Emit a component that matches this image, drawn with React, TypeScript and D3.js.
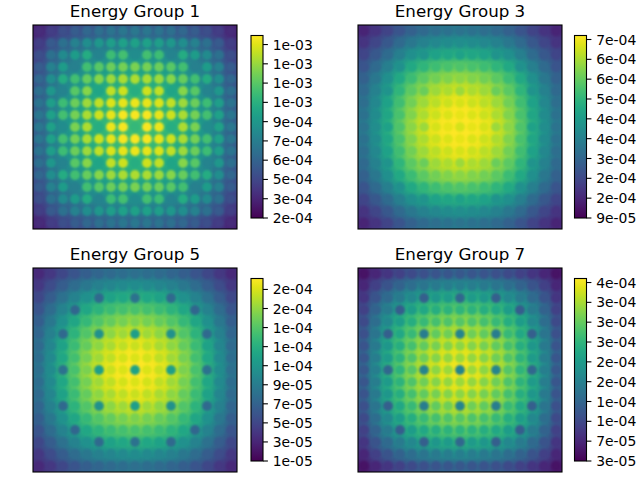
import * as d3 from "d3";

// Quarter-assembly values (index 0 = outer edge, index 8 = assembly centre).
// The 17x17 lattice is mirrored from these. "Moderator" = water between pins,
// "Pin" = value inside the pin cell (guide tubes included).

// Energy group 1, units of 1e-4
const g1Moderator = [
  [3.21, 3.96, 4.55, 4.96, 5.31, 5.54, 5.71, 5.8, 5.83],
  [3.97, 4.9, 5.62, 6.13, 6.56, 6.85, 7.07, 7.17, 7.21],
  [4.55, 5.62, 6.45, 7.03, 7.53, 7.86, 8.1, 8.23, 8.27],
  [4.96, 6.13, 7.03, 7.66, 8.2, 8.56, 8.83, 8.96, 9.01],
  [5.31, 6.56, 7.53, 8.2, 8.78, 9.17, 9.46, 9.6, 9.65],
  [5.54, 6.85, 7.85, 8.56, 9.16, 9.57, 9.87, 10.02, 10.07],
  [5.71, 7.07, 8.1, 8.83, 9.45, 9.87, 10.18, 10.34, 10.39],
  [5.8, 7.17, 8.23, 8.97, 9.6, 10.02, 10.34, 10.5, 10.55],
  [5.83, 7.21, 8.27, 9.01, 9.65, 10.07, 10.39, 10.55, 10.6],
];
const g1Pin = [
  [3.61, 4.36, 5.06, 5.69, 6.23, 6.58, 6.84, 6.98, 7.03],
  [4.37, 5.6, 6.7, 7.49, 8.15, 8.6, 8.94, 9.09, 9.15],
  [5.06, 6.7, 7.98, 8.88, 9.65, 7.62, 10.52, 10.72, 8.02],
  [5.69, 7.49, 8.88, 7.43, 10.68, 11.23, 11.65, 11.85, 11.93],
  [6.23, 8.15, 9.65, 10.68, 11.57, 12.17, 12.62, 12.83, 12.91],
  [6.58, 8.6, 7.61, 11.23, 12.16, 9.28, 13.25, 13.48, 9.77],
  [6.84, 8.94, 10.52, 11.65, 12.6, 13.25, 13.73, 13.97, 14.05],
  [6.98, 9.09, 10.72, 11.86, 12.83, 13.48, 13.97, 14.22, 14.3],
  [7.03, 9.15, 8.02, 11.93, 12.91, 9.77, 14.05, 14.3, 10.28],
];

// Energy group 3, units of 1e-4
const g3Moderator = [
  [1.62, 1.94, 2.29, 2.68, 2.98, 3.2, 3.34, 3.42, 3.48],
  [1.95, 2.34, 2.76, 3.22, 3.59, 3.85, 4.02, 4.13, 4.19],
  [2.3, 2.76, 3.26, 3.8, 4.23, 4.54, 4.74, 4.86, 4.94],
  [2.68, 3.22, 3.8, 4.43, 4.94, 5.29, 5.52, 5.67, 5.75],
  [2.98, 3.59, 4.23, 4.94, 5.5, 5.9, 6.16, 6.32, 6.42],
  [3.2, 3.85, 4.54, 5.29, 5.9, 6.33, 6.6, 6.77, 6.88],
  [3.34, 4.02, 4.74, 5.53, 6.16, 6.6, 6.9, 7.08, 7.18],
  [3.42, 4.13, 4.86, 5.67, 6.31, 6.77, 7.07, 7.25, 7.36],
  [3.48, 4.19, 4.94, 5.75, 6.42, 6.88, 7.18, 7.36, 7.48],
];
const g3Pin = [
  [1.54, 1.85, 2.18, 2.55, 2.84, 3.05, 3.18, 3.26, 3.31],
  [1.86, 2.23, 2.63, 3.07, 3.42, 3.67, 3.83, 3.93, 3.99],
  [2.19, 2.63, 3.1, 3.62, 4.03, 4.15, 4.51, 4.63, 4.51],
  [2.55, 3.07, 3.62, 4.05, 4.7, 5.04, 5.26, 5.4, 5.48],
  [2.84, 3.42, 4.03, 4.7, 5.24, 5.62, 5.87, 6.02, 6.11],
  [3.05, 3.67, 4.15, 5.04, 5.62, 5.79, 6.29, 6.45, 6.29],
  [3.18, 3.83, 4.51, 5.27, 5.87, 6.29, 6.57, 6.74, 6.84],
  [3.26, 3.93, 4.63, 5.4, 6.01, 6.45, 6.73, 6.9, 7.01],
  [3.31, 3.99, 4.51, 5.48, 6.11, 6.29, 6.84, 7.01, 6.84],
];

// Energy group 5, units of 1e-5
const g5Moderator = [
  [3.37, 4.34, 5.33, 6.23, 6.96, 7.52, 7.89, 8.13, 8.26],
  [4.34, 5.6, 6.87, 8.03, 8.97, 9.68, 10.17, 10.49, 10.65],
  [5.33, 6.87, 8.42, 9.84, 10.99, 11.88, 12.47, 12.86, 13.05],
  [6.23, 8.04, 9.84, 11.51, 12.86, 13.9, 14.58, 15.04, 15.27],
  [6.96, 8.97, 10.99, 12.85, 14.35, 15.52, 16.27, 16.79, 17.05],
  [7.52, 9.69, 11.89, 13.89, 15.52, 16.77, 17.6, 18.15, 18.43],
  [7.89, 10.17, 12.48, 14.57, 16.29, 17.59, 18.47, 19.05, 19.33],
  [8.14, 10.49, 12.86, 15.03, 16.79, 18.15, 19.05, 19.65, 19.94],
  [8.26, 10.65, 13.05, 15.27, 17.05, 18.43, 19.33, 19.94, 20.24],
];
const g5Pin = [
  [3.15, 4.06, 4.98, 5.82, 6.5, 7.03, 7.37, 7.6, 7.72],
  [4.06, 5.23, 6.42, 7.5, 8.38, 9.05, 9.5, 9.8, 9.95],
  [4.98, 6.42, 7.87, 9.2, 10.27, 7.33, 11.65, 12.02, 8.05],
  [5.82, 7.51, 9.2, 7.1, 12.02, 12.99, 13.63, 14.06, 14.27],
  [6.5, 8.38, 10.27, 12.01, 13.41, 14.5, 15.21, 15.69, 15.93],
  [7.03, 9.06, 7.33, 12.98, 14.5, 10.34, 16.45, 16.96, 11.37],
  [7.37, 9.5, 11.66, 13.62, 15.22, 16.44, 17.26, 17.8, 18.07],
  [7.61, 9.8, 12.02, 14.05, 15.69, 16.96, 17.8, 18.36, 18.64],
  [7.72, 9.95, 8.05, 14.27, 15.93, 11.37, 18.07, 18.64, 11.73],
];

// Energy group 7, units of 1e-5
const g7Moderator = [
  [5.42, 7.7, 9.55, 11.12, 12.33, 13.18, 13.75, 14.11, 14.25],
  [7.7, 10.94, 13.57, 15.8, 17.52, 18.73, 19.54, 20.05, 20.25],
  [9.55, 13.57, 16.84, 19.6, 21.74, 23.25, 24.25, 24.88, 25.13],
  [11.12, 15.8, 19.6, 22.82, 25.3, 27.06, 28.23, 28.96, 29.25],
  [12.33, 17.52, 21.73, 25.3, 28.06, 30.01, 31.3, 32.12, 32.44],
  [13.18, 18.73, 23.24, 27.06, 30.01, 32.09, 33.48, 34.34, 34.69],
  [13.75, 19.54, 24.25, 28.23, 31.3, 33.48, 34.92, 35.83, 36.19],
  [14.11, 20.05, 24.88, 28.96, 32.12, 34.35, 35.83, 36.76, 37.13],
  [14.25, 20.25, 25.13, 29.25, 32.44, 34.69, 36.19, 37.13, 37.5],
];
const g7Pin = [
  [4.77, 6.78, 8.4, 9.79, 10.85, 11.6, 12.1, 12.42, 12.54],
  [6.78, 9.63, 11.94, 13.9, 15.42, 16.48, 17.2, 17.64, 17.82],
  [8.4, 11.94, 14.82, 17.25, 19.13, 13.49, 21.34, 21.89, 14.58],
  [9.79, 13.9, 17.25, 13.24, 22.26, 23.81, 24.84, 25.48, 25.74],
  [10.85, 15.42, 19.12, 22.26, 24.69, 26.41, 27.54, 28.27, 28.55],
  [11.6, 16.48, 13.48, 23.81, 26.41, 17.65, 29.46, 30.22, 18.73],
  [12.1, 17.2, 21.34, 24.84, 27.54, 29.46, 30.73, 31.53, 31.85],
  [12.42, 17.64, 21.89, 25.48, 28.27, 30.23, 31.53, 32.35, 32.67],
  [12.54, 17.82, 14.58, 25.74, 28.55, 18.73, 31.85, 32.67, 18.75],
];

const titles = ["Energy Group 1", "Energy Group 3", "Energy Group 5", "Energy Group 7"];
const units = [1e-4, 1e-4, 1e-5, 1e-5];
const colorDomains: [number, number][] = [
  [2.1, 14.41],
  [0.9, 7.249],
  [1.0, 19.67],
  [3.0, 37.97],
];
const colorbarTicks = [
  [2.1, 3.4, 4.7, 6.0, 7.3, 8.6, 9.9, 11.2, 12.5, 13.8],
  [0.9, 1.59, 2.28, 2.97, 3.66, 4.35, 5.04, 5.73, 6.42, 7.11],
  [1.0, 2.95, 4.9, 6.85, 8.8, 10.75, 12.7, 14.65, 16.6, 18.55],
  [3.0, 6.8, 10.6, 14.4, 18.2, 22.0, 25.8, 29.6, 33.4, 37.2],
];

const moderators = [g1Moderator, g3Moderator, g5Moderator, g7Moderator];
const pins = [g1Pin, g3Pin, g5Pin, g7Pin];

// layout
const N = 17;
const SIZE = 204;
const panelX = [33, 358, 33, 358];
const panelY = [25, 25, 268, 268];
const cbX = [251, 574.5, 251, 574.5];
const cbW = 12;
const cbTop = [35.5, 35.5, 278.5, 278.5];
const cbBottom = [218, 218, 461, 461];
const FONT = "DejaVu Sans, sans-serif";

const fold = (r: number) => (r <= 8 ? r : 16 - r);

// same look as printf("%.0e")
function sci(v: number) {
  const [m, e] = v.toExponential(0).split("e");
  const n = parseInt(e, 10);
  return `${m}e${n < 0 ? "-" : "+"}${String(Math.abs(n)).padStart(2, "0")}`;
}

function Panel({ i }: { i: number }) {
  const x0 = panelX[i];
  const y0 = panelY[i];
  const color = d3.scaleSequential(d3.interpolateViridis).domain(colorDomains[i]);
  const band = d3.scaleBand<number>().domain(d3.range(N)).range([0, SIZE]);
  const step = band.step();
  const cells = d3.cross(d3.range(N), d3.range(N));
  const pad = 10;

  const y = d3.scaleLinear().domain(colorDomains[i]).range([cbBottom[i], cbTop[i]]);
  const stops = d3.range(0, 1.0001, 0.05);

  return (
    <g>
      <defs>
        <clipPath id={`clip${i}`}>
          <rect x={x0} y={y0} width={SIZE} height={SIZE} />
        </clipPath>
        <linearGradient id={`grad${i}`} x1="0" y1="1" x2="0" y2="0">
          {stops.map((t) => (
            <stop key={t} offset={t} stopColor={d3.interpolateViridis(t)} />
          ))}
        </linearGradient>
      </defs>

      <text x={x0 + SIZE / 2} y={y0 - 8.3} textAnchor="middle" fontFamily={FONT} fontSize={16.7}>
        {titles[i]}
      </text>

      <g clipPath={`url(#clip${i})`}>
        <g transform={`translate(${x0},${y0})`}>
          <g filter="url(#bgBlur)">
            {cells.map(([r, c]) => {
              const x = band(c)! - (c === 0 ? pad : 0);
              const yy = band(r)! - (r === 0 ? pad : 0);
              const w = step + (c === 0 || c === N - 1 ? pad : 0) + 0.5;
              const h = step + (r === 0 || r === N - 1 ? pad : 0) + 0.5;
              return (
                <rect
                  key={`m${r}-${c}`}
                  x={x}
                  y={yy}
                  width={w}
                  height={h}
                  fill={color(moderators[i][fold(r)][fold(c)])}
                />
              );
            })}
          </g>
          <g filter="url(#pinBlur)">
            {cells.map(([r, c]) => (
              <circle
                key={`p${r}-${c}`}
                cx={band(c)! + step / 2}
                cy={band(r)! + step / 2}
                r={step * 0.41}
                fill={color(pins[i][fold(r)][fold(c)])}
              />
            ))}
          </g>
        </g>
      </g>
      <rect x={x0} y={y0} width={SIZE} height={SIZE} fill="none" stroke="#000" strokeWidth={1.1} />

      {/* colour bar */}
      <rect
        x={cbX[i]}
        y={cbTop[i]}
        width={cbW}
        height={cbBottom[i] - cbTop[i]}
        fill={`url(#grad${i})`}
        stroke="#000"
        strokeWidth={1.1}
      />
      {colorbarTicks[i].map((t) => (
        <g key={t} transform={`translate(${cbX[i] + cbW},${y(t)})`}>
          <line x1={0} x2={4.9} stroke="#000" strokeWidth={1.1} />
          <text x={9.7} dy="0.36em" fontFamily={FONT} fontSize={13.9}>
            {sci(t * units[i])}
          </text>
        </g>
      ))}
    </g>
  );
}

export default function App() {
  return (
    <svg
      width={640}
      height={480}
      style={{ position: "absolute", left: 0, top: 0, background: "#fff" }}
    >
      <defs>
        <filter id="bgBlur" x="-10%" y="-10%" width="120%" height="120%" colorInterpolationFilters="sRGB">
          <feGaussianBlur stdDeviation={3.5} />
        </filter>
        <filter id="pinBlur" x="-10%" y="-10%" width="120%" height="120%" colorInterpolationFilters="sRGB">
          <feGaussianBlur stdDeviation={0.9} />
        </filter>
      </defs>
      {titles.map((_, i) => (
        <Panel key={i} i={i} />
      ))}
    </svg>
  );
}
